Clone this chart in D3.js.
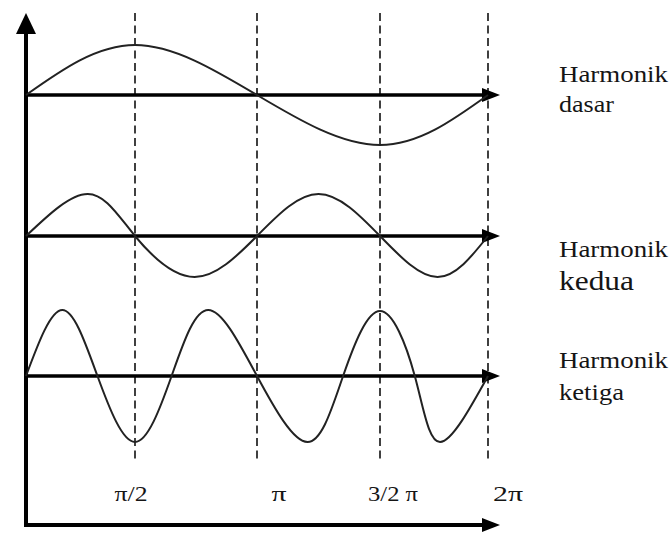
<!DOCTYPE html>
<html>
<head>
<meta charset="utf-8">
<script src="https://cdn.jsdelivr.net/npm/d3@7"></script>
<style>
  html, body { margin: 0; padding: 0; background: #fff; }
  svg { display: block; }
  .lbl { font-family: "Liberation Serif", "Times New Roman", Times, serif; fill: #151515; }
</style>
</head>
<body>
<div id="chart"></div>
<script>
// phase in degrees (0..360), amplitude in relative units
const tickDegrees = [90, 180, 270, 360];
const tickLabels = ["π/2", "π", "3/2 π", "2π"];

const h1Phase = [0, 90, 180, 270, 360];
const h1Amp   = [0, 1, 0, -1, 0];

const h2Phase = [0, 51, 90, 134, 180, 225, 270, 318, 360];
const h2Amp   = [0, 0.84, 0, -0.82, 0, 0.84, 0, -0.82, 0];

const h3Phase = [0, 30, 59, 90, 117, 144, 180, 217, 243, 270, 299, 320, 360];
const h3Amp   = [0, 1.32, 0, -1.32, 0, 1.32, 0, -1.32, 0, 1.3, 0, -1.32, 0];

const seriesNames = ["Harmonik", "Harmonik", "Harmonik"];
const seriesSub = ["dasar", "kedua", "ketiga"];

window.onload = function() {
    const width = 671, height = 534;
    const baselines = [95, 236, 376];
    const unit = 50;

    const svg = d3.select("#chart").append("svg")
        .attr("width", width)
        .attr("height", height);

    // hand drawn grid is not evenly spaced, so piecewise scale through the dashed lines
    const x = d3.scaleLinear()
        .domain([0, 90, 180, 270, 360])
        .range([26, 135, 257, 380, 488]);

    // dashed guides
    svg.selectAll("line.guide")
        .data(tickDegrees)
        .enter()
        .append("line")
        .attr("class", "guide")
        .attr("x1", d => x(d))
        .attr("x2", d => x(d))
        .attr("y1", 13)
        .attr("y2", 461)
        .attr("stroke", "#111")
        .attr("stroke-width", 1.6)
        .attr("stroke-dasharray", "8,4.5");

    // arrow helper
    function arrow(tipX, tipY, dir, len, half) {
        let pts;
        if (dir === "up") pts = [[tipX, tipY], [tipX - half, tipY + len], [tipX + half, tipY + len]];
        else pts = [[tipX, tipY], [tipX - len, tipY - half], [tipX - len, tipY + half]];
        svg.append("path")
            .attr("d", d3.line()(pts) + "Z")
            .attr("fill", "#000");
    }

    // main axes
    svg.append("line")
        .attr("x1", x(0)).attr("x2", x(0))
        .attr("y1", 30).attr("y2", 527)
        .attr("stroke", "#000").attr("stroke-width", 4);
    arrow(x(0), 13, "up", 21, 10);

    svg.append("line")
        .attr("x1", x(0) - 2).attr("x2", 486)
        .attr("y1", 525).attr("y2", 525)
        .attr("stroke", "#000").attr("stroke-width", 4);
    arrow(500, 525, "right", 18, 7);

    const series = [
        { phase: h1Phase, amp: h1Amp },
        { phase: h2Phase, amp: h2Amp },
        { phase: h3Phase, amp: h3Amp }
    ];

    series.forEach((s, i) => {
        const y = d3.scaleLinear().domain([-1, 1]).range([baselines[i] + unit, baselines[i] - unit]);

        svg.append("line")
            .attr("x1", x(0)).attr("x2", 486)
            .attr("y1", y(0)).attr("y2", y(0))
            .attr("stroke", "#000").attr("stroke-width", 3.5);
        arrow(500, y(0), "right", 18, 7);

        const pts = s.phase.map((p, j) => [p, s.amp[j]]);
        svg.append("path")
            .datum(pts)
            .attr("fill", "none")
            .attr("stroke", "#222")
            .attr("stroke-width", 2)
            .attr("d", d3.line()
                .x(d => x(d[0]))
                .y(d => y(d[1]))
                .curve(d3.curveNatural));
    });

    // right hand labels
    const nameY = [82, 257, 368];
    const subY = [112, 290, 400];
    const subSize = [23, 28, 23];
    const subLen = [55, 75, 65];

    seriesNames.forEach((n, i) => {
        svg.append("text")
            .attr("class", "lbl")
            .attr("x", 559).attr("y", nameY[i])
            .attr("font-size", 23)
            .attr("textLength", 109)
            .attr("lengthAdjust", "spacingAndGlyphs")
            .text(n);
        svg.append("text")
            .attr("class", "lbl")
            .attr("x", 559).attr("y", subY[i])
            .attr("font-size", subSize[i])
            .attr("textLength", subLen[i])
            .attr("lengthAdjust", "spacingAndGlyphs")
            .text(seriesSub[i]);
    });

    // tick labels under the guides
    const labelNudge = [-4, 22, 13, 20];
    const labelLen = [33, 15, 50, 30];
    svg.selectAll("text.tick")
        .data(tickDegrees)
        .enter()
        .append("text")
        .attr("class", "lbl tick")
        .attr("x", (d, i) => x(d) + labelNudge[i] - labelLen[i] / 2)
        .attr("y", 501)
        .attr("font-size", 22)
        .attr("textLength", (d, i) => labelLen[i])
        .attr("lengthAdjust", "spacingAndGlyphs")
        .text((d, i) => tickLabels[i]);
};
</script>
</body>
</html>
